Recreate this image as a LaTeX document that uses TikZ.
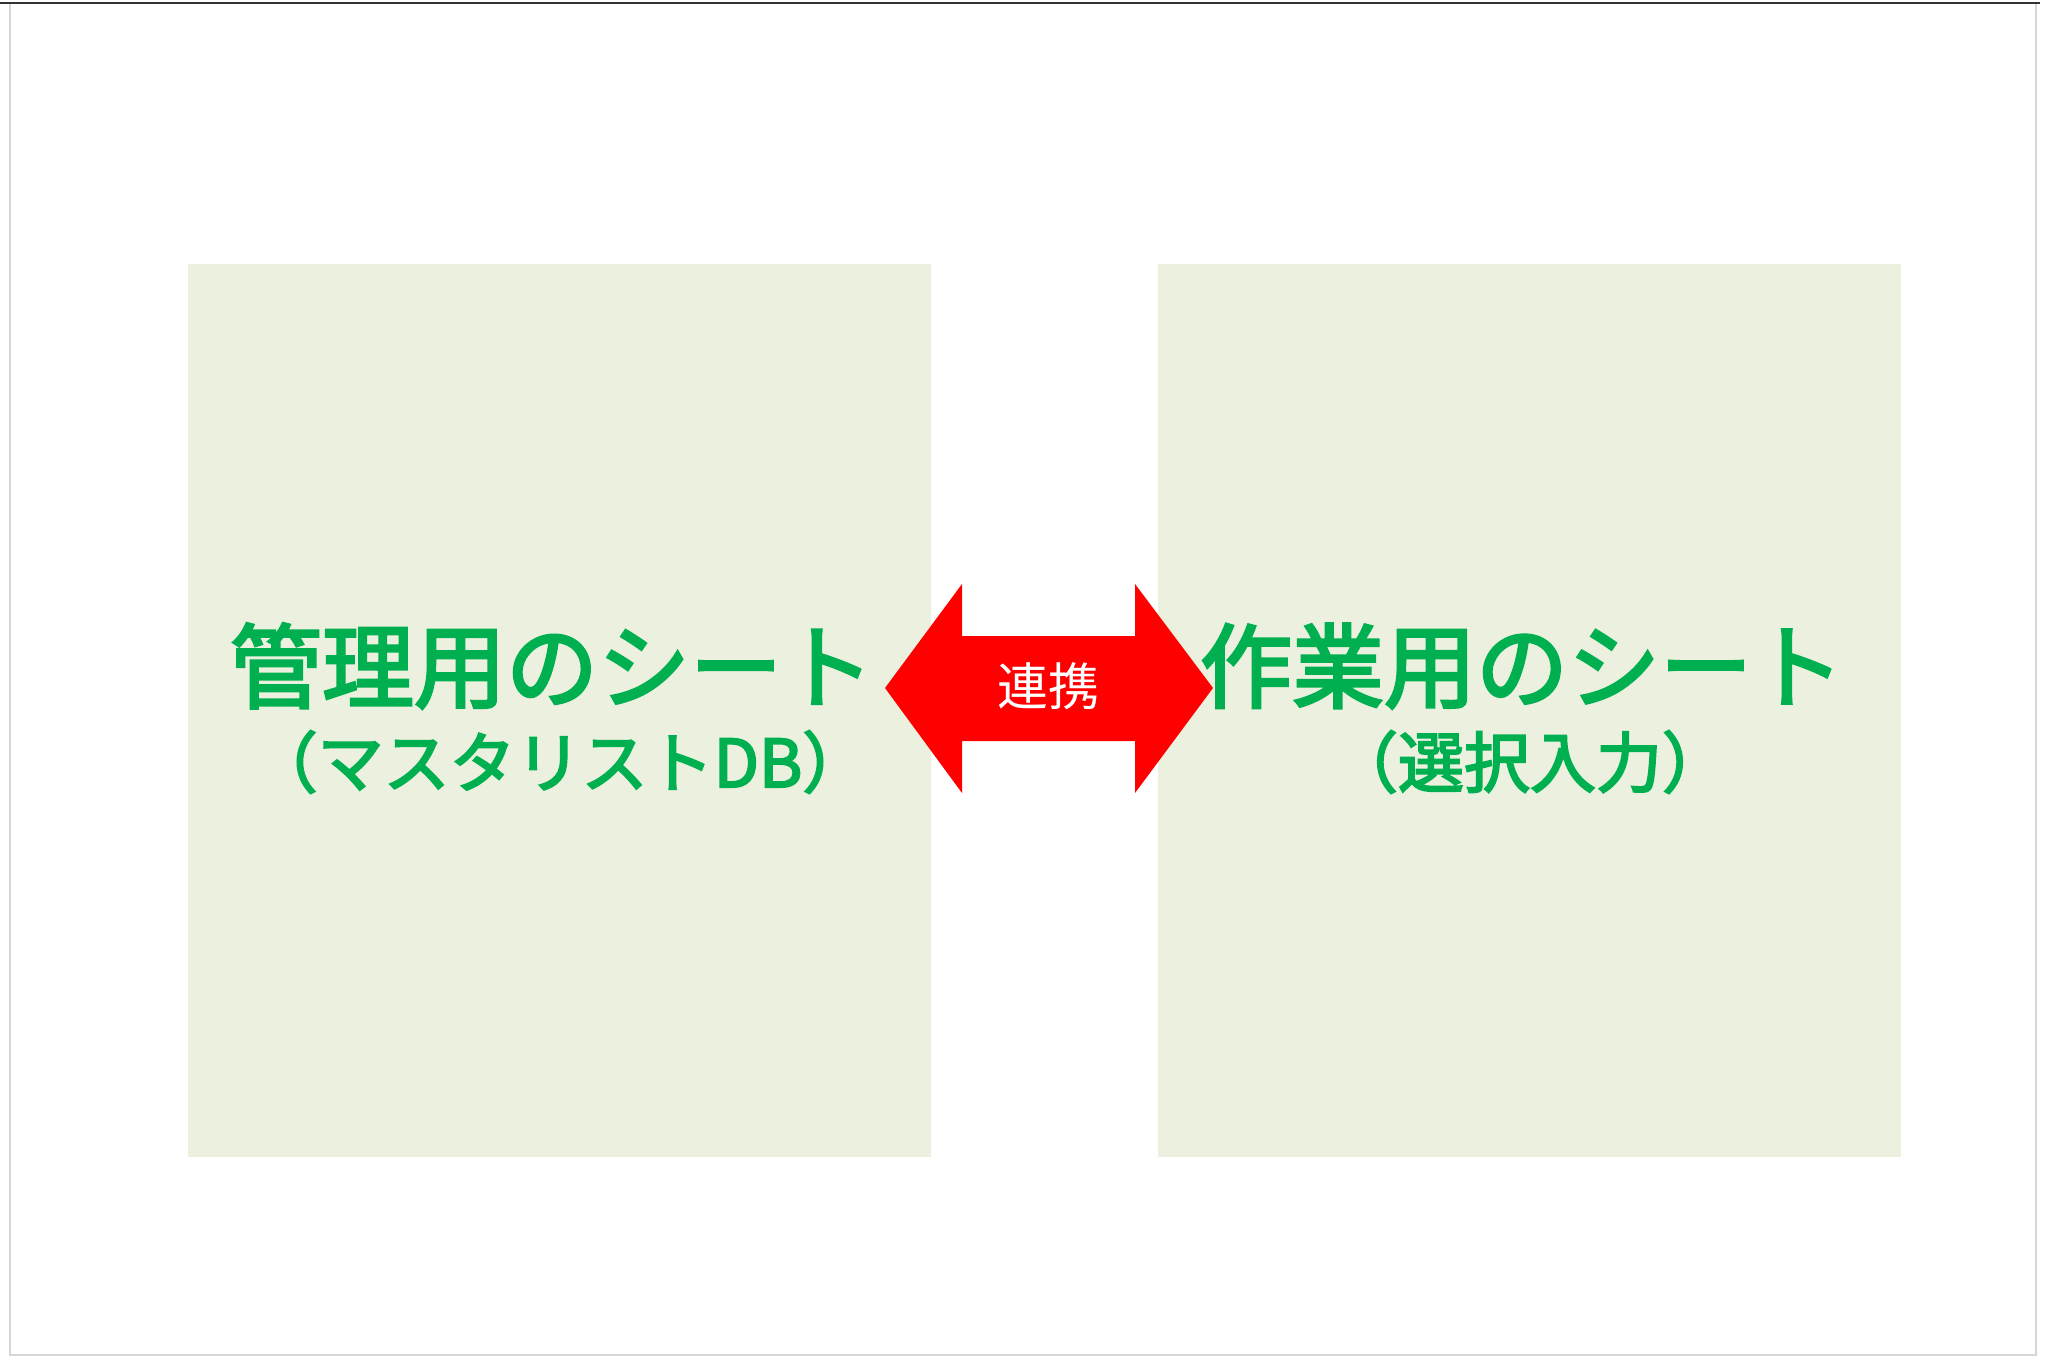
\documentclass[tikz,border=0pt]{standalone}
\usepackage{fontspec}
\usepackage{tikz}
\usetikzlibrary{positioning}
\newfontfamily\jpbold[FakeBold=3]{Noto Sans CJK JP}
\newfontfamily\jpplain{Noto Sans CJK JP}
\definecolor{shgreen}{RGB}{0,176,80}
\definecolor{shfill}{RGB}{235,241,222}
\definecolor{shred}{RGB}{255,0,0}
\definecolor{shframe}{RGB}{214,214,214}

\begin{document}
\begin{tikzpicture}[
  x=1pt,y=-1pt,
  sheet/.style={fill=shfill,inner sep=0pt,minimum width=743pt,minimum height=893pt},
  title/.style={text=shgreen,inner sep=0pt,font=\jpbold\fontsize{92}{96}\selectfont},
  sub/.style={text=shgreen,inner sep=0pt,font=\jpbold\fontsize{66}{70}\selectfont}
]
\useasboundingbox (0,0) rectangle (2048,1356);
\fill[white] (0,0) rectangle (2048,1356);

% Frame
\draw[shframe,line width=2pt] (10,3) -- (10,1355) -- (2036,1355) -- (2036,3);
\draw[black!80,line width=1.5pt] (0,3) -- (2040,3);

% Sheets
\node[sheet] (kanri) at (559,710.5) {};
\node[sheet] (sagyo) at (1529,710.5) {};

\node[title] (kanriT) at (552,666) {管理用のシート};
\node[sub] (kanriS) at (560,762) {（マスタリストDB）};
\node[title] (sagyoT) at (1522,666) {作業用のシート};
\node[sub] (sagyoS) at (1530,762) {（選択入力）};

% Link arrow
\fill[shred] (885,688) -- (962,584) -- (962,636) -- (1135,636) -- (1135,584)
  -- (1213,688) -- (1135,793) -- (1135,741) -- (962,741) -- (962,793) -- cycle;
\node[text=white,inner sep=0pt,font=\jpplain\fontsize{51}{55}\selectfont] (link) at (1048,686) {連携};
\end{tikzpicture}
\end{document}
